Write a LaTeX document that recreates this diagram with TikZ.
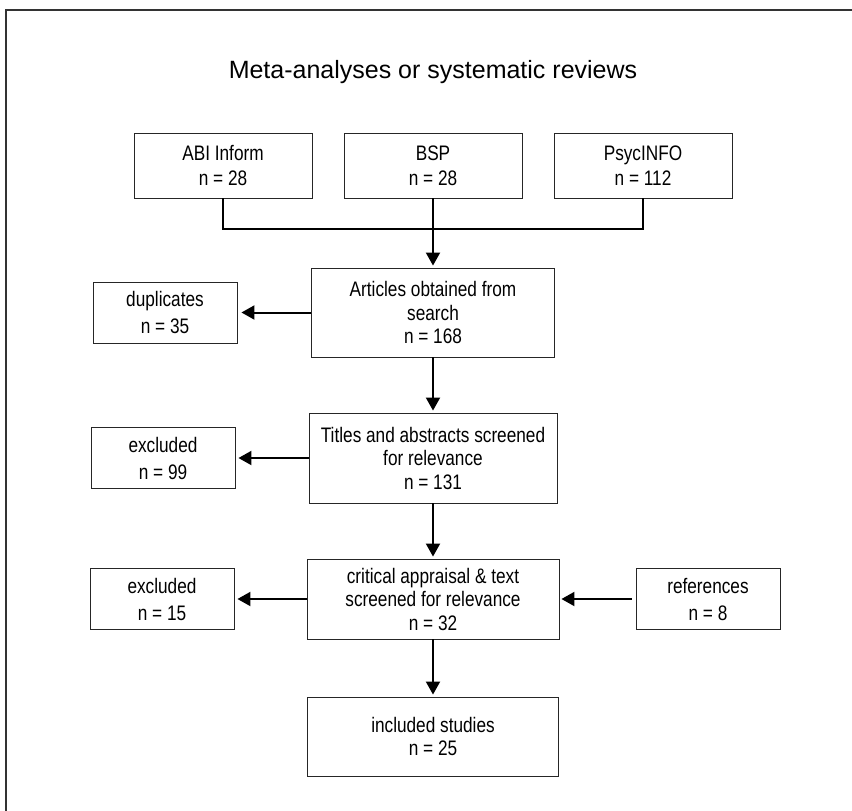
\documentclass[tikz,border=0pt]{standalone}
\usepackage{fontspec}
\setmainfont{Liberation Sans}[FakeStretch=0.82]
\newfontfamily\headfont{Liberation Sans}
\usetikzlibrary{arrows.meta}
\tikzset{
  % plain boxes of the flow
  stagebox/.style={draw=black!85, line width=0.9pt, align=center, inner sep=2pt,
    font=\fontsize{21}{23.5}\selectfont},
  srcbox/.style={stagebox, minimum width=178pt, minimum height=65pt,
    font=\fontsize{21}{25}\selectfont},
  sidebox/.style={stagebox, minimum width=144pt, minimum height=61pt,
    font=\fontsize{21}{27}\selectfont},
  % thick connectors
  flowarr/.style={-{Triangle[length=13pt,width=14pt]}, line width=2pt, shorten >=2pt},
  joinln/.style={line width=2pt},
}

\begin{document}
\begin{tikzpicture}[x=1pt, y=-1pt]
  \useasboundingbox (0,0) rectangle (852,811);
  % outer frame, only top and left edges show
  \draw[line width=1.5pt, black!80] (852,10) -- (6,10) -- (6,811);
  \node[font=\headfont\fontsize{25}{30}\selectfont] (title) at (433,72)
    {Meta-analyses or systematic reviews};
  % databases
  \node[srcbox] (abi) at (223,165.5) {ABI Inform\\n = 28};
  \node[srcbox] (bsp) at (433,165.5) {BSP\\n = 28};
  \node[srcbox] (psy) at (643,165.5) {PsycINFO\\n = 112};
  % main stages
  \node[stagebox, minimum width=243pt, minimum height=89pt] (art) at (433,312.5)
    {Articles obtained from\\search\\n = 168};
  \node[stagebox, minimum width=248pt, minimum height=90pt] (tit) at (433,458)
    {Titles and abstracts screened\\for relevance\\n = 131};
  \node[stagebox, minimum width=252pt, minimum height=80pt] (crit) at (433,599)
    {critical appraisal \& text\\screened for relevance\\n = 32};
  \node[stagebox, minimum width=251pt, minimum height=79pt] (inc) at (433,736.5)
    {included studies\\n = 25};
  % side boxes
  \node[sidebox] (dup) at (165,312.5) {duplicates\\n = 35};
  \node[sidebox] (exa) at (163,458) {excluded\\n = 99};
  \node[sidebox] (exb) at (162,599) {excluded\\n = 15};
  \node[sidebox] (ref) at (708,599) {references\\n = 8};
  % joining the databases
  \coordinate (bus) at (433,229);
  \draw[joinln] (abi.south) |- (bus) -| (psy.south);
  \draw[flowarr] (bsp.south) -- (art.north);
  \draw[flowarr] (art.south) -- (tit.north);
  \draw[flowarr] (tit.south) -- (crit.north);
  \draw[flowarr] (crit.south) -- (inc.north);
  \draw[flowarr, shorten >=4pt] (art.west) -- (dup.east);
  \draw[flowarr, shorten >=3pt] (tit.west) -- (exa.east);
  \draw[flowarr, shorten >=3pt] (crit.west) -- (exb.east);
  \draw[flowarr, shorten <=4pt] (ref.west) -- (crit.east);
\end{tikzpicture}
\end{document}
